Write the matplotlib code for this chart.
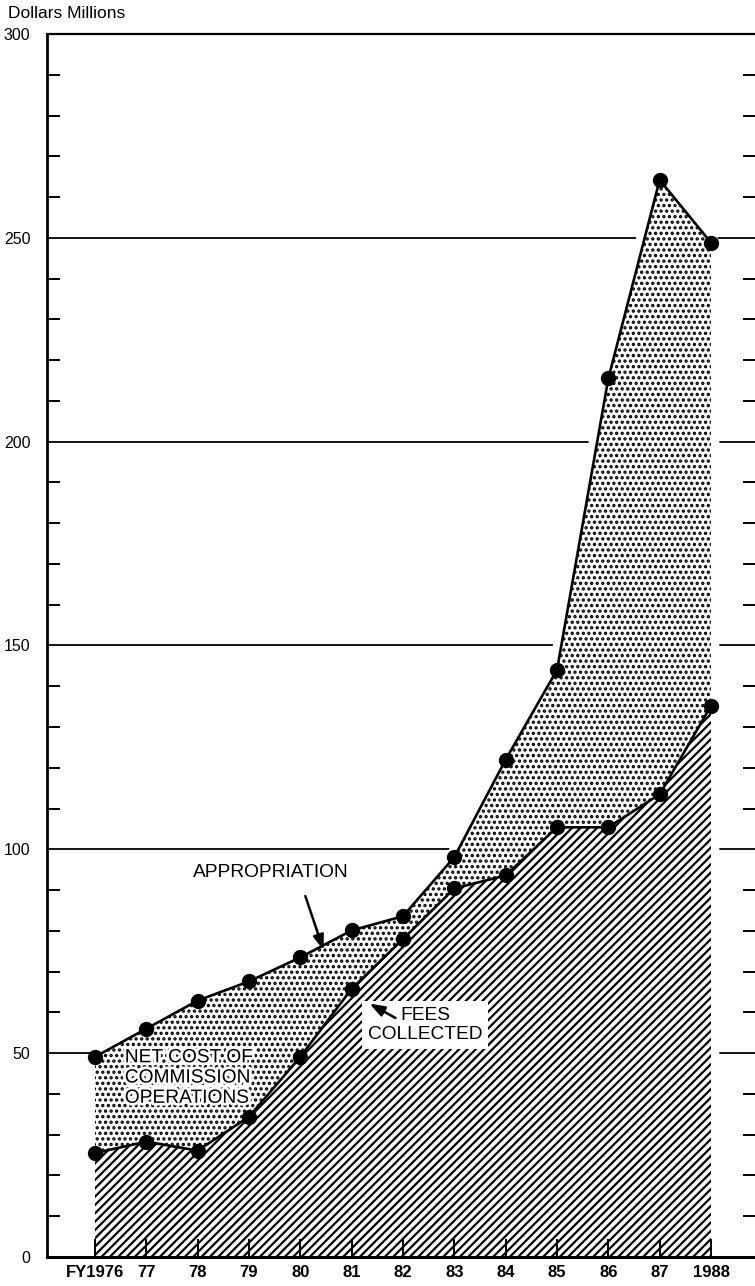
import matplotlib
matplotlib.use("Agg")
import matplotlib.pyplot as plt
import matplotlib.patheffects as pe
import numpy as np

years = ["FY1976", "77", "78", "79", "80", "81", "82", "83", "84", "85", "86", "87", "1988"]
appropriation = [49.1, 56.0, 62.9, 67.6, 73.5, 80.1, 83.6, 98.1, 122.0, 144.0, 215.5, 264.2, 248.8]
fees_collected = [25.5, 28.3, 26.1, 34.4, 49.1, 65.8, 78.0, 90.4, 93.6, 105.4, 105.4, 113.5, 135.2]
y_major = [0, 50, 100, 150, 200, 250, 300]

plt.rcParams['font.family'] = ['Liberation Sans', 'DejaVu Sans']
plt.rcParams['hatch.linewidth'] = 1.6
plt.rcParams['hatch.color'] = 'black'

fig = plt.figure(figsize=(7.55, 12.86), dpi=100)
ax = fig.add_axes([47/755, 29/1286, 1 - 47/755, (1257-34)/1286])

x = np.arange(len(years))
app = np.array(appropriation)
fees = np.array(fees_collected)

ax.set_xlim(-0.935, 12.857)
ax.set_ylim(0, 300)

# gridlines (behind)
for v in y_major[1:]:
    ax.axhline(v, color='black', lw=1.3, zorder=0.5)

# white halo around the shaded shape
ax.fill_between(x, 0, app, facecolor='white', edgecolor='none', zorder=0.8)
ax.plot(np.r_[x, x[-1]], np.r_[app, 0], color='white', lw=12, zorder=0.8,
        solid_capstyle='butt', solid_joinstyle='round')

# net cost area (dotted)
ax.fill_between(x, fees, app, facecolor='white', edgecolor='black', hatch='...',
                linewidth=0, zorder=1)
# fees area (diagonal hatch)
ax.fill_between(x, 0, fees, facecolor='white', edgecolor='black', hatch='////',
                linewidth=0, zorder=1.1)

ax.plot(x, app, color='black', lw=1.9, marker='o', markersize=10, zorder=3)
ax.plot(x, fees, color='black', lw=1.9, marker='o', markersize=10, zorder=3)

# axes styling
ax.set_axisbelow(False)
ax.spines['right'].set_visible(False)
ax.spines['top'].set_linewidth(1.6)
ax.spines['left'].set_linewidth(2.0)
ax.spines['bottom'].set_linewidth(2.2)

ax.set_xticks(x)
ax.set_xticklabels(years, fontweight='bold', fontsize=12)
ax.tick_params(axis='x', direction='in', length=13, width=1.4, pad=6, top=False)

ax.set_yticks(y_major)
ax.set_yticklabels([str(v) for v in y_major], fontsize=11.5)
ax.set_yticks(np.arange(0, 301, 10), minor=True)
ax.tick_params(axis='y', which='major', length=0, pad=12, right=False)
ax.tick_params(axis='y', which='minor', direction='in', length=9, width=1.4,
               left=True, right=True)

fig.text(8/755, 1 - 14/1286, "Dollars Millions", fontsize=12.5, va='center', ha='left')

# annotations
ax.annotate("", xy=(4.47, 74.6), xytext=(4.08, 89.2),
            arrowprops=dict(arrowstyle='-|>,head_length=0.9,head_width=0.32', color='black', lw=1.8),
            zorder=4)
ax.text(3.42, 94.2, "APPROPRIATION", fontsize=13.8, ha='center', va='center', zorder=4)

ax.text(6.43, 56.9, "FEES\nCOLLECTED", fontsize=13.8, ha='center', va='center',
        linespacing=1.2, zorder=4,
        bbox=dict(facecolor='white', edgecolor='none', pad=4))
ax.annotate("", xy=(5.3, 62.5), xytext=(5.9, 58.3),
            arrowprops=dict(arrowstyle='-|>,head_length=0.9,head_width=0.32', color='black', lw=1.8),
            zorder=5)

ax.text(0.58, 43.9, "NET COST OF\nCOMMISSION\nOPERATIONS", fontsize=13.8, ha='left', va='center',
        linespacing=1.25, zorder=4,
        path_effects=[pe.withStroke(linewidth=4, foreground='white')])

fig.savefig("out.png", dpi=100)
